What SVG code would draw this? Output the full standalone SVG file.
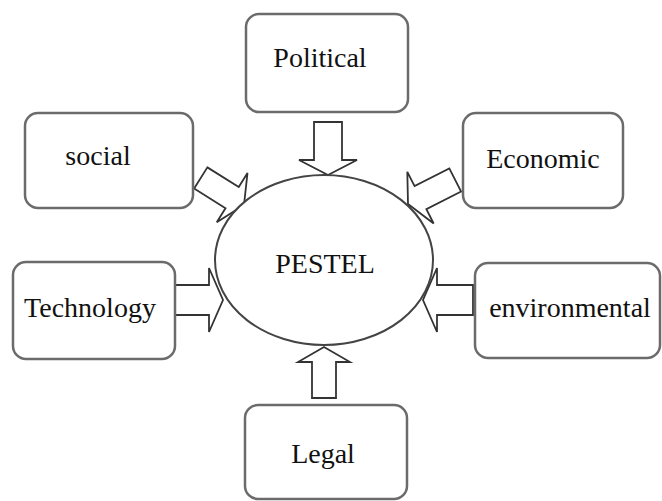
<svg xmlns="http://www.w3.org/2000/svg" width="662" height="501" viewBox="0 0 662 501">
<defs>
<style>
.box{fill:#fff;stroke:#6b6b6b;stroke-width:2.5}
.lbl{font-family:"Liberation Serif","Times New Roman",serif;font-size:28px;fill:#111;text-anchor:middle}
.arr{fill:#fff;stroke:#333;stroke-width:1.8;stroke-linejoin:miter}
.ell{fill:#fff;stroke:#444;stroke-width:2}
</style>
<polygon id="arrowShape" points="-52,-13 -15,-13 -15,-29 0,0 -15,29 -15,13 -52,13"/>
</defs>
<rect width="662" height="501" fill="#fff"/>
<g id="connectors">
<polygon class="arr" transform="translate(328,175) rotate(90)" points="-53,-14 -15,-14 -15,-29 0,0 -15,29 -15,14 -53,14"/>
<polygon class="arr" transform="translate(324,347) rotate(-90)" points="-51,-12 -15,-12 -15,-26 0,0 -15,26 -15,12 -51,12"/>
<polygon class="arr" transform="translate(223,300) rotate(0)" points="-48,-15 -14,-15 -14,-32 0,0 -14,32 -14,15 -48,15"/>
<polygon class="arr" transform="translate(423,300) rotate(180)" points="-50,-15 -14,-15 -14,-32 0,0 -14,32 -14,15 -50,15"/>
<polygon class="arr" transform="translate(244,205) rotate(32)" points="-51,-12.5 -14,-12.5 -14,-29 0,0 -14,29 -14,12.5 -51,12.5"/>
<polygon class="arr" transform="translate(408,204) rotate(153)" points="-53,-13 -14,-13 -14,-29 0,0 -14,29 -14,13 -53,13"/>
</g>
<g id="pestel">
<ellipse class="ell" cx="324" cy="260" rx="109" ry="85"/>
<text class="lbl" x="325" y="273">PESTEL</text>
</g>
<g id="political">
<rect class="box" x="246" y="14" width="162" height="98" rx="13"/>
<text class="lbl" x="320" y="67">Political</text>
</g>
<g id="social">
<rect class="box" x="25" y="113" width="168" height="95" rx="13"/>
<text class="lbl" x="98" y="165">social</text>
</g>
<g id="economic">
<rect class="box" x="463" y="113" width="160" height="95" rx="13"/>
<text class="lbl" x="543" y="168">Economic</text>
</g>
<g id="technology">
<rect class="box" x="13" y="262" width="162" height="97" rx="13"/>
<text class="lbl" x="90" y="317">Technology</text>
</g>
<g id="environmental">
<rect class="box" x="475" y="263" width="185" height="95" rx="13"/>
<text class="lbl" x="570" y="317">environmental</text>
</g>
<g id="legal">
<rect class="box" x="245" y="405" width="162" height="94" rx="13"/>
<text class="lbl" x="323" y="463">Legal</text>
</g>
</svg>
